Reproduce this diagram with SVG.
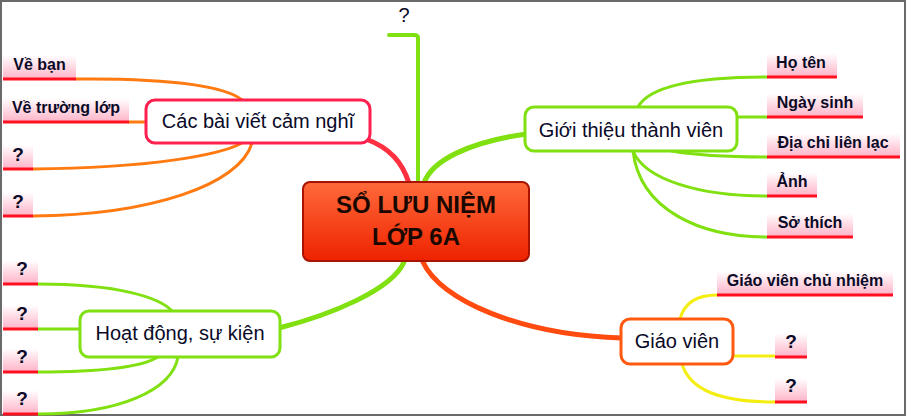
<svg xmlns="http://www.w3.org/2000/svg" width="908" height="417" viewBox="0 0 908 417">
<defs>
<linearGradient id="pink" x1="0" y1="0" x2="0" y2="1">
<stop offset="0" stop-color="#ffffff"/>
<stop offset="1" stop-color="#ffb3c8"/>
</linearGradient>
<linearGradient id="core" x1="0" y1="0" x2="0" y2="1">
<stop offset="0" stop-color="#ff6a3a"/>
<stop offset="1" stop-color="#ee2200"/>
</linearGradient>
</defs>
<style>
.c{fill:none;stroke-linecap:round}
.g{stroke:#80e010}
.o{stroke:#ff7a10}
.y{stroke:#f4ee10}
.node{fill:#fff;stroke-width:3}
.nt{font-family:"Liberation Sans",Arial,sans-serif;font-size:20px;fill:#0a0a28;text-anchor:middle}
.lt{font-family:"Liberation Sans",Arial,sans-serif;font-size:16px;font-weight:bold;fill:#0a0a28;text-anchor:middle}
.q{font-size:19px}
.lb{fill:url(#pink)}
.ul{stroke:#ff1020;stroke-width:3}
</style>
<rect x="1" y="1" width="904" height="414" fill="#fff" stroke="#6a6a6a" stroke-width="2"/>

<g id="connectors">
<path class="c" d="M409,183 C402,162 390,148 366,139" stroke="#ff3040" stroke-width="5"/>
<path class="c g" d="M424,183 C432,160 470,142 526,134" stroke-width="5"/>
<path class="c g" d="M418,183 L418,38 Q418,35 414,35 L389,35" stroke-width="4"/>
<path class="c g" d="M404,262 C392,290 330,315 279,328" stroke-width="5"/>
<path class="c" d="M423,262 C440,300 520,335 622,338" stroke="#ff4a10" stroke-width="5"/>
<path class="c o" d="M76,79 C180,78 228,88 242,100" stroke-width="3"/>
<path class="c o" d="M129,122 L146,122" stroke-width="3"/>
<path class="c o" d="M33,169 C150,168 220,155 242,143" stroke-width="3"/>
<path class="c o" d="M33,216 C150,215 240,185 252,143" stroke-width="3"/>
<path class="c g" d="M38,284 C120,284 160,298 172,311" stroke-width="3"/>
<path class="c g" d="M38,329 L80,329" stroke-width="3"/>
<path class="c g" d="M38,372 C110,372 145,365 158,357" stroke-width="3"/>
<path class="c g" d="M38,414 C120,414 172,390 178,357" stroke-width="3"/>
<path class="c g" d="M638,107 C650,85 700,77 767,77" stroke-width="3"/>
<path class="c g" d="M737,117 L767,117" stroke-width="3"/>
<path class="c g" d="M672,151 C700,156 730,157 767,157" stroke-width="3"/>
<path class="c g" d="M633,151 C645,180 700,196 767,196" stroke-width="3"/>
<path class="c g" d="M633,151 C640,210 700,237 767,237" stroke-width="3"/>
<path class="c y" d="M680,319 C685,300 700,295 717,295" stroke-width="3"/>
<path class="c y" d="M733,356 L775,356" stroke-width="3"/>
<path class="c y" d="M682,364 C690,390 720,402 775,402" stroke-width="3"/>
</g>

<g id="center">
<rect x="303" y="182" width="226" height="79" rx="7" fill="url(#core)" stroke="#a81400" stroke-width="2"/>
<text x="416" y="213" font-family="'Liberation Sans',Arial,sans-serif" font-size="24" font-weight="bold" fill="#1a0800" text-anchor="middle">SỔ LƯU NIỆM</text>
<text x="416" y="245" font-family="'Liberation Sans',Arial,sans-serif" font-size="24" font-weight="bold" fill="#1a0800" text-anchor="middle">LỚP 6A</text>
</g>

<g id="top-q">
<text x="404" y="22" font-family="'Liberation Sans',Arial,sans-serif" font-size="20" fill="#0a0a28" text-anchor="middle">?</text>
</g>

<g id="cam-nghi">
<rect class="node" x="146" y="100" width="224" height="43" rx="9" stroke="#ff2050"/>
<text class="nt" x="258" y="128">Các bài viết cảm nghĩ</text>
</g>
<g id="gioi-thieu">
<rect class="node" x="525" y="107" width="212" height="44" rx="9" stroke="#80e010"/>
<text class="nt" x="631" y="137">Giới thiệu thành viên</text>
</g>
<g id="hoat-dong">
<rect class="node" x="80" y="311" width="200" height="46" rx="9" stroke="#80e010"/>
<text class="nt" x="180" y="340">Hoạt động, sự kiện</text>
</g>
<g id="giao-vien">
<rect class="node" x="621" y="319" width="112" height="45" rx="9" stroke="#ff5a10"/>
<text class="nt" x="677" y="348">Giáo viên</text>
</g>

<g id="leaf-ve-ban"><rect class="lb" x="3" y="55" width="73" height="24"/><line class="ul" x1="3" y1="79" x2="76" y2="79"/><text class="lt" x="39.5" y="70">Về bạn</text></g>
<g id="leaf-ve-truong"><rect class="lb" x="3" y="98" width="126" height="24"/><line class="ul" x1="3" y1="122" x2="129" y2="122"/><text class="lt" x="66" y="113">Về trường lớp</text></g>
<g id="leaf-cn-q1"><rect class="lb" x="3" y="145" width="30" height="24"/><line class="ul" x1="3" y1="169" x2="33" y2="169"/><text class="lt q" x="18" y="161">?</text></g>
<g id="leaf-cn-q2"><rect class="lb" x="3" y="192" width="30" height="24"/><line class="ul" x1="3" y1="216" x2="33" y2="216"/><text class="lt q" x="18" y="208">?</text></g>

<g id="leaf-hd-q1"><rect class="lb" x="3" y="260" width="35" height="24"/><line class="ul" x1="3" y1="284" x2="38" y2="284"/><text class="lt q" x="22" y="275">?</text></g>
<g id="leaf-hd-q2"><rect class="lb" x="3" y="305" width="35" height="24"/><line class="ul" x1="3" y1="329" x2="38" y2="329"/><text class="lt q" x="22" y="320">?</text></g>
<g id="leaf-hd-q3"><rect class="lb" x="3" y="348" width="35" height="24"/><line class="ul" x1="3" y1="372" x2="38" y2="372"/><text class="lt q" x="22" y="363">?</text></g>
<g id="leaf-hd-q4"><rect class="lb" x="3" y="390" width="35" height="24"/><line class="ul" x1="3" y1="414" x2="38" y2="414"/><text class="lt q" x="22" y="405">?</text></g>

<g id="leaf-ho-ten"><rect class="lb" x="767" y="53" width="70" height="24"/><line class="ul" x1="767" y1="77" x2="837" y2="77"/><text class="lt" x="801" y="68">Họ tên</text></g>
<g id="leaf-ngay-sinh"><rect class="lb" x="767" y="93" width="96" height="24"/><line class="ul" x1="767" y1="117" x2="863" y2="117"/><text class="lt" x="815" y="108">Ngày sinh</text></g>
<g id="leaf-dia-chi"><rect class="lb" x="767" y="133" width="133" height="24"/><line class="ul" x1="767" y1="157" x2="900" y2="157"/><text class="lt" x="833" y="148">Địa chỉ liên lạc</text></g>
<g id="leaf-anh"><rect class="lb" x="767" y="172" width="50" height="24"/><line class="ul" x1="767" y1="196" x2="817" y2="196"/><text class="lt" x="792" y="187">Ảnh</text></g>
<g id="leaf-so-thich"><rect class="lb" x="767" y="213" width="86" height="24"/><line class="ul" x1="767" y1="237" x2="853" y2="237"/><text class="lt" x="810" y="228">Sở thích</text></g>

<g id="leaf-gvcn"><rect class="lb" x="717" y="271" width="176" height="24"/><line class="ul" x1="717" y1="295" x2="893" y2="295"/><text class="lt" x="805" y="286">Giáo viên chủ nhiệm</text></g>
<g id="leaf-gv-q1"><rect class="lb" x="775" y="333" width="32" height="24"/><line class="ul" x1="775" y1="357" x2="807" y2="357"/><text class="lt q" x="791" y="348">?</text></g>
<g id="leaf-gv-q2"><rect class="lb" x="775" y="378" width="32" height="24"/><line class="ul" x1="775" y1="402" x2="807" y2="402"/><text class="lt q" x="791" y="392">?</text></g>
</svg>
